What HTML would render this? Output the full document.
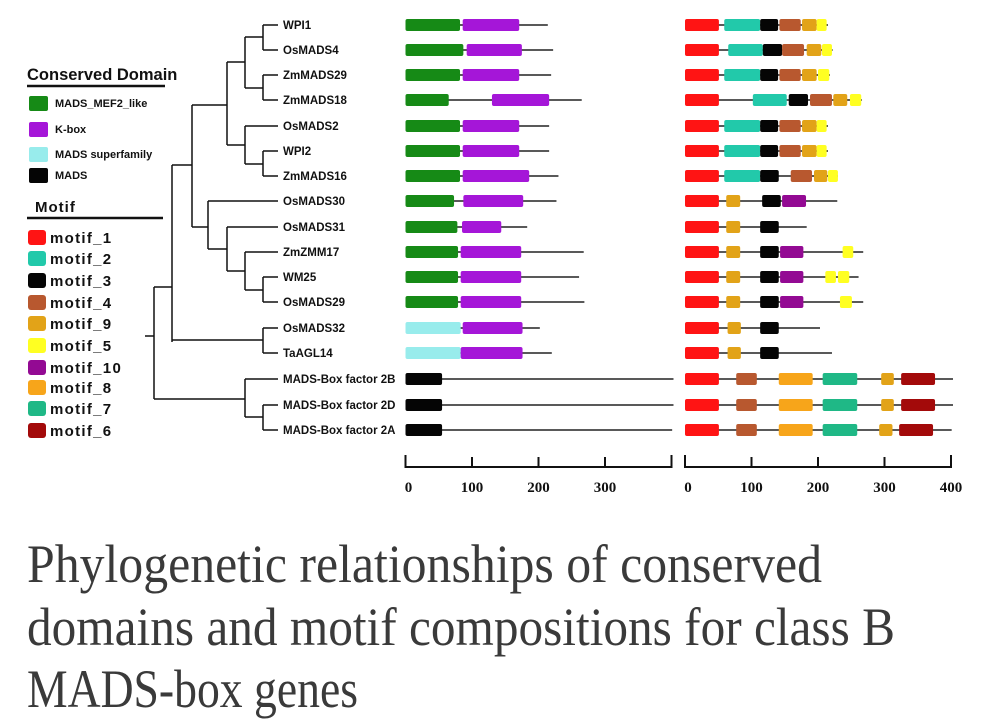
<!DOCTYPE html>
<html><head><meta charset="utf-8"><style>
html,body{margin:0;padding:0;background:#fff;width:983px;height:720px;overflow:hidden}
svg{display:block}
</style></head><body>
<svg id="fig" width="983" height="720" viewBox="0 0 983 720" xmlns="http://www.w3.org/2000/svg" font-family="Liberation Sans, sans-serif">
<g id="tree" stroke="#111" stroke-width="1.5" fill="none">
<path d="M145 336H154M154 287V399M154 287H172M172 165V342M172 165H192M172 340H263M263 328V353M263 328H278M263 353H278
M192 105V227M192 105H227M227 62V145M227 62H245M245 37V88M245 37H263M263 25V50M263 25H278M263 50H278M245 88H263M263 75V100M263 75H278M263 100H278
M227 145H245M245 126V164M245 126H278M245 164H263M263 151V176M263 151H278M263 176H278
M192 227H208M208 201V249M208 201H278M208 249H227M227 227V271M227 227H278M227 271H245M245 252V290M245 252H278M245 290H263M263 277V302M263 277H278M263 302H278
M154 399H245M245 379V417M245 379H278M245 417H263M263 405V430M263 405H278M263 430H278"/>
</g>
<g id="leaves"></g>
<g id="legend"></g>
<g id="domains"></g>
<g id="motifs"></g>
<g id="caption" fill="#3a3a3a" font-family="Liberation Serif, serif" font-size="54">
<text x="27" y="582" textLength="795" lengthAdjust="spacingAndGlyphs">Phylogenetic relationships of conserved</text>
<text x="27" y="645" textLength="868" lengthAdjust="spacingAndGlyphs">domains and motif compositions for class B</text>
<text x="27" y="707" textLength="331" lengthAdjust="spacingAndGlyphs">MADS-box genes</text>
</g>
</svg>
<script>
const genes=["WPI1","OsMADS4","ZmMADS29","ZmMADS18","OsMADS2","WPI2","ZmMADS16","OsMADS30","OsMADS31","ZmZMM17","WM25","OsMADS29","OsMADS32","TaAGL14","MADS-Box factor 2B","MADS-Box factor 2D","MADS-Box factor 2A"];
const rowY=[25,50,75,100,126,151,176,201,227,252,277,302,328,353,379,405,430];
const domainLen=[214,222,219,265,216,216,230,227,183,268,261,269,202,220,403,403,401];
const domainSegs=[
[["mef2",0,82],["kbox",86,171]],
[["mef2",0,87],["kbox",92,175]],
[["mef2",0,82],["kbox",86,171]],
[["mef2",0,65],["kbox",130,216]],
[["mef2",0,82],["kbox",86,171]],
[["mef2",0,82],["kbox",86,171]],
[["mef2",0,82],["kbox",86,186]],
[["mef2",0,73],["kbox",87,177]],
[["mef2",0,78],["kbox",85,144]],
[["mef2",0,79],["kbox",83,174]],
[["mef2",0,79],["kbox",83,174]],
[["mef2",0,79],["kbox",83,174]],
[["super",0,83],["kbox",86,176]],
[["super",0,83],["kbox",83,176]],
[["mads",0,55]],[["mads",0,55]],[["mads",0,55]]];
const motifLen=[215,222,218,266,215,215,230,229,183,268,261,268,203,221,403,403,401];
const motifSegs=[
[["m1",0,51],["m2",59,113],["m3",113,140],["m4",142,174],["m9",176,198],["m5",198,213]],
[["m1",0,51],["m2",65,117],["m3",117,146],["m4",146,179],["m9",183,205],["m5",206,221]],
[["m1",0,51],["m2",59,113],["m3",113,140],["m4",142,174],["m9",176,198],["m5",200,217]],
[["m1",0,51],["m2",102,153],["m3",156,185],["m4",188,221],["m9",223,244],["m5",248,265]],
[["m1",0,51],["m2",59,113],["m3",113,140],["m4",142,174],["m9",176,198],["m5",198,213]],
[["m1",0,51],["m2",59,113],["m3",113,140],["m4",142,174],["m9",176,198],["m5",198,213]],
[["m1",0,51],["m2",59,113],["m3",113,141],["m4",159,191],["m9",194,214],["m5",215,230]],
[["m1",0,51],["m9",62,83],["m3",116,144],["m10",146,182]],
[["m1",0,51],["m9",62,83],["m3",113,141]],
[["m1",0,51],["m9",62,83],["m3",113,141],["m10",143,178],["m5",237,253]],
[["m1",0,51],["m9",62,83],["m3",113,141],["m10",143,178],["m5",211,227],["m5",230,247]],
[["m1",0,51],["m9",62,83],["m3",113,141],["m10",143,178],["m5",233,251]],
[["m1",0,51],["m9",64,84],["m3",113,141]],
[["m1",0,51],["m9",64,84],["m3",113,141]],
[["m1",0,51],["m4",77,108],["m8",141,192],["m7",207,259],["m9",295,314],["m6",325,376]],
[["m1",0,51],["m4",77,108],["m8",141,192],["m7",207,259],["m9",295,314],["m6",325,376]],
[["m1",0,51],["m4",77,108],["m8",141,192],["m7",207,259],["m9",292,312],["m6",322,373]]];
const domainTicks=[0,100,200,300];
const motifTicks=[0,100,200,300,400];
const domainNames=["MADS_MEF2_like","K-box","MADS superfamily","MADS"];
const motifNames=["motif_1","motif_2","motif_3","motif_4","motif_9","motif_5","motif_10","motif_8","motif_7","motif_6"];

const colors={mef2:"#168a16",kbox:"#a516d8",super:"#98ecec",mads:"#050505",m1:"#ff1414",m2:"#22c9aa",m3:"#050505",m4:"#b8582f",m9:"#e2a318",m5:"#ffff22",m10:"#930a93",m8:"#f7a51a",m7:"#1fb886",m6:"#a30a0a"};
const domainKeys=["mef2","kbox","super","mads"];
const motifKeys=["m1","m2","m3","m4","m9","m5","m10","m8","m7","m6"];
const NS="http://www.w3.org/2000/svg";
function mk(tag,attrs,parent){const e=document.createElementNS(NS,tag);for(const k in attrs)e.setAttribute(k,attrs[k]);parent.appendChild(e);return e;}
const xDom=v=>405.5+v*0.665;
const xMot=v=>685+v*0.665;

const leaves=document.getElementById('leaves');
genes.forEach((g,i)=>{
  const t=mk('text',{x:283,y:rowY[i]+4,'font-size':11.5,'font-weight':'bold',fill:'#111'},leaves);
  
  
  t.textContent=g;
});

function panel(gid,len,segs,xf,ticks,axisEnd){
  const g=document.getElementById(gid);
  genes.forEach((gn,i)=>{
    const y=rowY[i];
    const ln=mk('line',{x1:xf(0),x2:xf(len[i]),y1:y,y2:y,stroke:'#222','stroke-width':1.6},g);
    
    
    segs[i].forEach(s=>{
      const r=mk('rect',{x:xf(s[1]),y:y-6,width:xf(s[2])-xf(s[1]),height:12,rx:2,fill:colors[s[0]]},g);
      
      
    });
  });
  const ax=mk('path',{d:`M${xf(0)} 455V467H${xf(axisEnd)}V455`,stroke:'#111','stroke-width':2,fill:'none'},g);
  
  
  ticks.forEach(t=>{
    const tk=mk('line',{x1:xf(t),x2:xf(t),y1:457,y2:467,stroke:'#111','stroke-width':2},g);
    
    
    const tl=mk('text',{x:xf(t)+(t===0?3:0),y:492,'text-anchor':'middle','font-family':'Liberation Serif, serif','font-weight':'bold','font-size':15,fill:'#111'},g);
    
    
    tl.textContent=t;
  });
}
panel('domains',domainLen,domainSegs,xDom,domainTicks,400);
panel('motifs',motifLen,motifSegs,xMot,motifTicks,400);

const lg=document.getElementById('legend');
let tt=mk('text',{x:27,y:80,'font-size':16.5,'font-weight':'bold',fill:'#111'},lg);


tt.textContent='Conserved Domain';
mk('line',{x1:27,x2:165,y1:86,y2:86,stroke:'#111','stroke-width':2.5},lg);
const domY=[103,129,154,175];
domainNames.forEach((n,i)=>{
  const r=mk('rect',{x:29,y:domY[i]-7,width:19,height:15,rx:2,fill:colors[domainKeys[i]]},lg);
  
  
  const t=mk('text',{x:55,y:domY[i]+4,'font-size':11,'font-weight':'bold',fill:'#111'},lg);
  
  
  t.textContent=n;
});
tt=mk('text',{x:35,y:212,'font-size':15,'font-weight':'bold',fill:'#111','letter-spacing':1},lg);


tt.textContent='Motif';
mk('line',{x1:27,x2:163,y1:218,y2:218,stroke:'#111','stroke-width':2.5},lg);
const motY=[237,258,280,302,323,345,367,387,408,430];
motifNames.forEach((n,i)=>{
  const r=mk('rect',{x:28,y:motY[i]-7,width:18,height:15,rx:3,fill:colors[motifKeys[i]]},lg);
  
  
  const t=mk('text',{x:50,y:motY[i]+6,'font-size':15,'font-weight':'bold',fill:'#111','letter-spacing':1.3},lg);
  
  
  t.textContent=n;
});
</script>
</body></html>
